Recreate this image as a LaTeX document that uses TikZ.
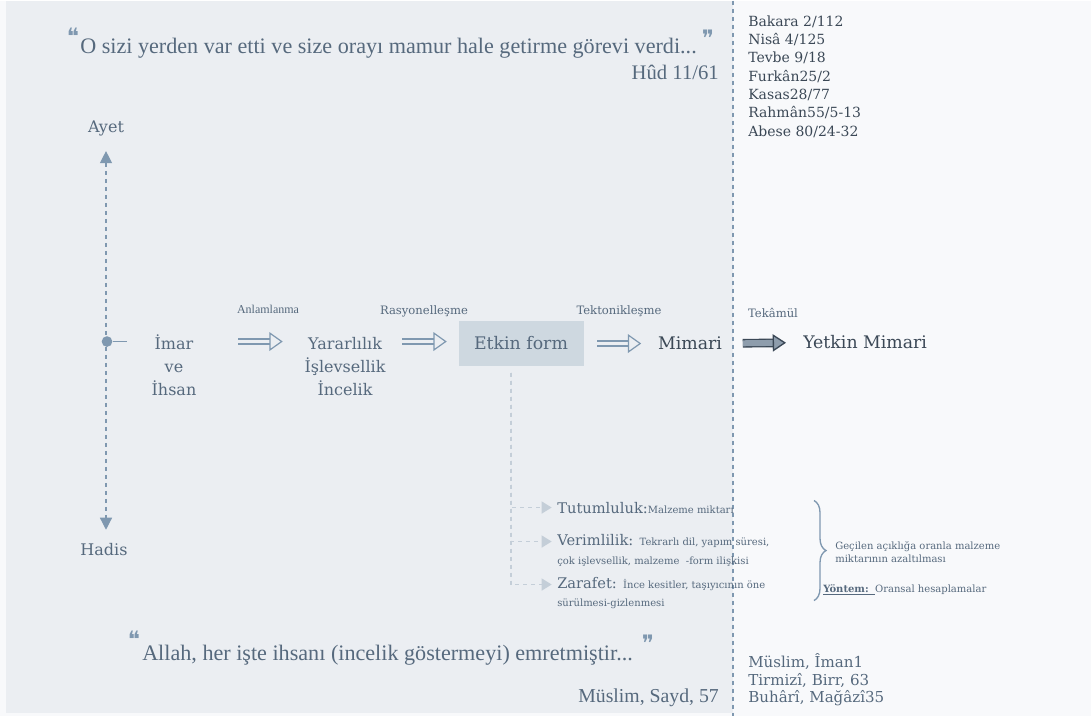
\documentclass[tikz,border=0pt]{standalone}
\usepackage{fontspec}
\setmainfont{DejaVu Serif}
\newfontfamily\quotefont{Liberation Serif}
\newfontfamily\markfont{DejaVu Sans}
\usetikzlibrary{positioning,calc,arrows.meta,decorations.pathreplacing}
\definecolor{leftBg}{HTML}{EBEEF2}
\definecolor{rightBg}{HTML}{F8F9FB}
\definecolor{slateText}{HTML}{56697D}
\definecolor{darkText}{HTML}{3B4856}
\definecolor{accentColor}{HTML}{7F98B0}
\definecolor{boxFill}{HTML}{CED8E0}
\definecolor{branchColor}{HTML}{C4CED8}
\definecolor{blockFill}{HTML}{8E9DAC}
\tikzset{
    term/.style={
        text=slateText,
        font=\fontsize{12}{17.25}\selectfont,
        align=center,
        inner sep=0pt
    },
    steplabel/.style={
        text=slateText,
        font=\fontsize{8.7}{10}\selectfont,
        inner sep=0pt
    },
    reflist/.style={
        text=darkText,
        font=\fontsize{10.5}{13.7}\selectfont,
        align=left,
        inner sep=0pt
    },
    quotetext/.style={
        text=slateText,
        font=\quotefont\fontsize{16.6}{18}\selectfont,
        inner sep=0pt
    },
    quotemark/.style={
        text=accentColor,
        font=\markfont\fontsize{17}{17}\selectfont,
        inner sep=0pt
    },
    item/.style={
        text=slateText,
        font=\fontsize{11}{13}\selectfont,
        anchor=west,
        inner sep=0pt
    },
    note/.style={
        text=slateText,
        font=\fontsize{7.5}{9.5}\selectfont,
        anchor=west,
        inner sep=0pt
    },
    dblarrow/.style={
        draw=accentColor,
        line width=0.9pt,
        double=leftBg,
        double distance=2.8pt,
        -{Triangle[open,fill=leftBg,length=10pt,width=14pt]}
    },
    branch/.style={
        draw=branchColor,
        line width=1pt,
        dashed,
        -{Triangle[length=7.5pt,width=9pt]}
    }
}

\begin{document}
\begin{tikzpicture}[x=0.75pt, y=-0.75pt]
    % panels
    \fill[rightBg] (0,0) rectangle (1091,715);
    \fill[leftBg] (6,0) rectangle (733,712);
    \draw[accentColor, dashed, line width=0.8pt] (733,0) -- (733,715);

    % top quote
    \node[quotemark] (qopen) at (73,36) {❝};
    \node[quotetext, anchor=west] (quote) at (80,48) {O sizi yerden var etti ve size orayı mamur hale getirme görevi verdi...};
    \node[quotemark] (qclose) at (708,38) {❞};
    \node[quotetext, font=\quotefont\fontsize{15.5}{17}\selectfont, anchor=east] (hud) at (719,72) {Hûd 11/61};

    \node[reflist, anchor=north west] (ayetrefs) at (748,15) {Bakara 2/112\\Nisâ 4/125\\Tevbe 9/18\\Furkân25/2\\Kasas28/77\\Rahmân55/5-13\\Abese 80/24-32};

    % axis
    \node[term] (ayet) at (106,128) {Ayet};
    \node[term] (hadis) at (104,549) {Hadis};
    \draw[accentColor, line width=0.9pt, dashed, {Triangle[length=9pt,width=9pt]}-{Triangle[length=9pt,width=9pt]}, shorten <=11pt, shorten >=10pt] (ayet.south) -- (ayet.south |- hadis.north);
    \node[circle, fill=accentColor, minimum size=8pt, inner sep=0pt] (hub) at (107,341) {};

    % main chain
    \node[term, text width=37.5pt] (imar) at (174,365) {İmar\\ve\\İhsan};
    \node[term, text width=67.5pt] (yarar) at (345,366) {Yararlılık\\İşlevsellik\\İncelik};
    \node[term, font=\fontsize{13}{15}\selectfont, fill=boxFill, minimum width=93.75pt, minimum height=33.75pt] (etkin) at (521,343) {Etkin form};
    \node[term, font=\fontsize{13}{15}\selectfont, text=darkText, text width=48.75pt] (mimari) at (690,343) {Mimari};
    \node[term, font=\fontsize{13}{15}\selectfont, text=darkText, anchor=west] (yetkin) at (803,342) {Yetkin Mimari};

    \draw[accentColor, line width=0.9pt, shorten >=16.5pt] (hub) -- (hub -| imar.west);
    \draw[dblarrow, shorten <=29.25pt, shorten >=12.75pt] (imar.east |- hub) -- (yarar.west |- hub);
    \draw[dblarrow, shorten <=9pt, shorten >=8.6pt] (yarar.east |- hub) -- (etkin.west |- hub);
    \draw[dblarrow, shorten <=10pt, shorten >=12pt] (etkin.east) -- (mimari.west);
    \draw[draw=darkText, line width=1pt, double=blockFill, double distance=4.5pt, -{Triangle[open,fill=blockFill,length=10pt,width=13pt]}, shorten <=15pt, shorten >=12.75pt] (mimari.east) -- (yetkin.west);

    \node[steplabel, font=\quotefont\fontsize{9}{10}\selectfont] (anlam) at (268,309) {Anlamlanma};
    \node[steplabel] (rasyo) at (424,311) {Rasyonelleşme};
    \node[steplabel] (tekto) at (619,311) {Tektonikleşme};
    \node[steplabel] (tekam) at (773,312) {Tekâmül};

    % branches
    \coordinate (br) at (511,372);
    \node[item] (tut) at (557,507) {Tutumluluk:{\fontsize{7.5}{9.5}\selectfont Malzeme miktarı}};
    \node[item] (ver) at (557,541) {Verimlilik: {\fontsize{7.5}{9.5}\selectfont Tekrarlı dil, yapım süresi,}};
    \node[note] (ver2) at (557,561) {çok işlevsellik, malzeme \ -form ilişkisi};
    \node[item] (zar) at (557,584) {Zarafet: {\fontsize{7.5}{9.5}\selectfont İnce kesitler, taşıyıcının öne}};
    \node[note] (zar2) at (557,603) {sürülmesi-gizlenmesi};
    \draw[branch, shorten >=4pt] (br) |- (tut.west);
    \draw[branch, shorten >=4pt] (br) |- (ver.west);
    \draw[branch, shorten >=4pt] (br) |- (zar.west);

    % brace and notes
    \draw[accentColor, line width=1pt, decorate, decoration={brace, amplitude=9pt}] (814,500) -- (814,600);
    \node[note, anchor=north west, align=left] (gecilen) at (835,541) {Geçilen açıklığa oranla malzeme\\miktarının azaltılması};
    \node[note] (yontem) at (823,589) {\underline{\textbf{Yöntem:}\ \ }Oransal hesaplamalar};

    % bottom quote
    \node[quotemark] (bopen) at (134,639) {❝};
    \node[quotetext, anchor=west] (hadisquote) at (142,655) {Allah, her işte ihsanı (incelik göstermeyi) emretmiştir...};
    \node[quotemark] (bclose) at (648,643) {❞};
    \node[quotetext, font=\quotefont\fontsize{14.8}{16}\selectfont, anchor=east] (sayd) at (719,697) {Müslim, Sayd, 57};

    \node[reflist, text=slateText, font=\fontsize{11.3}{13.1}\selectfont, anchor=north west] (hadisrefs) at (748,653) {Müslim, Îman1\\Tirmizî, Birr, 63\\Buhârî, Mağâzî35};
\end{tikzpicture}
\end{document}
